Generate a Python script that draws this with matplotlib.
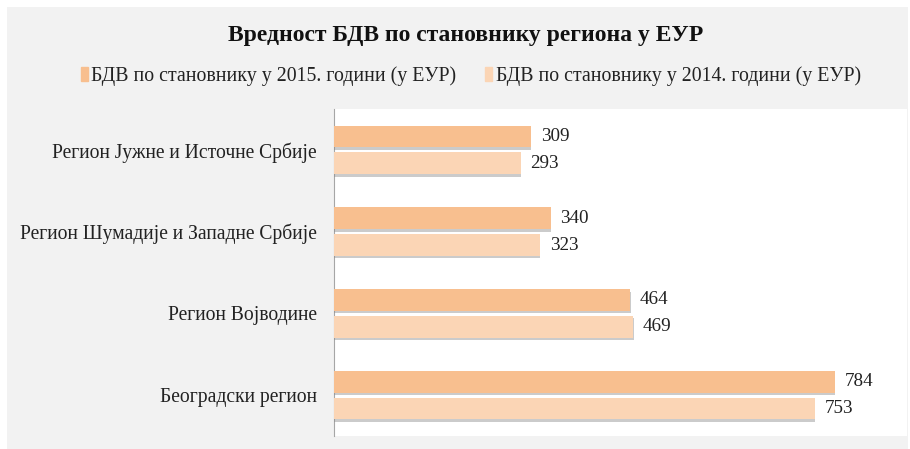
import matplotlib
matplotlib.use("Agg")
import matplotlib.pyplot as plt
import matplotlib.patheffects as pe
from matplotlib.patches import Rectangle, Patch
import numpy as np

plt.rcParams['font.family'] = ['Liberation Serif', 'DejaVu Serif']

# ---------- data ----------
regions = ['Београдски регион', 'Регион Војводине',
           'Регион Шумадије и Западне Србије', 'Регион Јужне и Источне Србије']
vals_2015 = [784, 464, 340, 309]
vals_2014 = [753, 469, 323, 293]
label_2015 = 'БДВ по становнику у 2015. години (у ЕУР)'
label_2014 = 'БДВ по становнику у 2014. години (у ЕУР)'
title = 'Вредност БДВ по становнику региона у ЕУР'

c2015 = '#F8BF8F'
c2014 = '#FBD5B5'

fig = plt.figure(figsize=(9.1, 4.49), dpi=100)
fig.patch.set_facecolor('white')
# gray chart panel
fig.patches.append(Rectangle((7 / 910, 0), 901 / 910, 442 / 449,
                             transform=fig.transFigure, facecolor='#F2F2F2',
                             edgecolor='none', zorder=-10))

ax = fig.add_axes([333.5 / 910, 13 / 449, 573.5 / 910, 327 / 449])
ax.set_facecolor('white')

y = np.arange(len(regions))
h = 0.268
off = 0.164
shadow = [pe.SimplePatchShadow(offset=(0.3, -1.8), shadow_rgbFace='#8c8c8c', alpha=0.45),
          pe.Normal()]
b15 = ax.barh(y + off, vals_2015, height=h, color=c2015,
              path_effects=shadow, zorder=3)
b14 = ax.barh(y - off, vals_2014, height=h, color=c2014,
              path_effects=shadow, zorder=3)

for bars, vals in ((b15, vals_2015), (b14, vals_2014)):
    for bar, v in zip(bars, vals):
        ax.text(v + 15, bar.get_y() + bar.get_height() / 2, str(v),
                va='center', ha='left', fontsize=13.8, color='#222222')

ax.set_xlim(0, 897)
ax.set_ylim(-0.5, len(regions) - 0.5)
ax.set_yticks(y)
ax.set_yticklabels(regions, fontsize=14.1, color='#222222')
ax.tick_params(axis='y', length=0, pad=12)
ax.set_xticks([])
for s in ['top', 'right', 'bottom']:
    ax.spines[s].set_visible(False)
ax.spines['left'].set_color('#A6A6A6')

fig.text(466 / 910, 0.921, title, ha='center', va='center', fontsize=17,
         fontweight='bold', color='#111111')

handles = [Patch(color=c2015, label=label_2015), Patch(color=c2014, label=label_2014)]
fig.legend(handles=handles, loc='center', bbox_to_anchor=(471 / 910, 0.830), ncol=2,
           frameon=False, fontsize=14.3, handlelength=0.35, handleheight=0.7,
           handletextpad=0.2, columnspacing=1.45, labelcolor='#222222')

fig.savefig('out.png', dpi=100, facecolor='white')
